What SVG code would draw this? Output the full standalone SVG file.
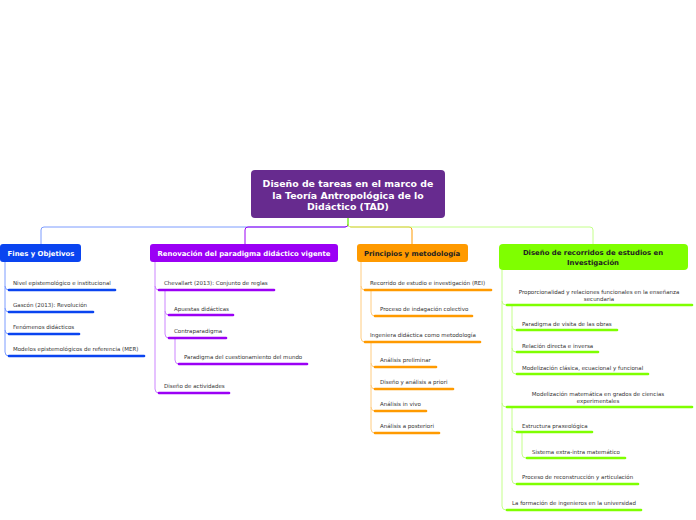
<svg xmlns="http://www.w3.org/2000/svg" width="696" height="520" viewBox="0 0 696 520">
<style>
.t{font-family:"DejaVu Sans",Verdana,sans-serif;font-size:5.5px;fill:#333}
.h{font-family:"DejaVu Sans",Verdana,sans-serif;font-size:6.9px;font-weight:bold}
.r{font-family:"DejaVu Sans",Verdana,sans-serif;font-size:9.4px;font-weight:bold;fill:#fff}
.ln{fill:none;stroke-width:1}
.bar{stroke-width:2.6;stroke-linecap:round}
.b{stroke:#0a44f0}.bl{stroke:#7d9cff}
.p{stroke:#9b00f5}.pl{stroke:#cc85ff}
.o{stroke:#ff9a00}.ol{stroke:#ffcc80}
.g{stroke:#7fff00}.gl{stroke:#c4ff8a}
</style>
<rect width="696" height="520" fill="#fff"/>
<g id="connectors">
<path class="ln bl" d="M348 218 V224 Q348 227 345 227 H44 Q41 227 41 230 V244"/>
<path class="ln p" d="M348 224 Q348 227 345 227 H248 Q245 227 245 230 V244"/>
<path class="ln o" d="M348 224 Q348 227 351 227 H409 Q412 227 412 230 V244"/>
<path class="ln gl" d="M348 218 V224 Q348 227 351 227 H590 Q593 227 593 230 V244"/>
<path class="ln g" d="M348 218 V226"/>
<path class="ln bl" d="M5 262 V286 Q5 290 9 290 M5 286 V308 Q5 312 9 312 M5 308 V330 Q5 334 9 334 M5 330 V352 Q5 356 9 356"/>
<path class="ln pl" d="M155 262 V286 Q155 290 159 290 M155 286 V389 Q155 393 159 393"/>
<path class="ln pl" d="M165 290 V311 Q165 315 169 315 M165 311 V334 Q165 338 169 338"/>
<path class="ln pl" d="M175 338 V360 Q175 364 179 364"/>
<path class="ln ol" d="M361 262 V286 Q361 290 365 290 M361 286 V338 Q361 342 365 342"/>
<path class="ln ol" d="M371 290 V312 Q371 316 375 316"/>
<path class="ln ol" d="M371 342 V363 Q371 367 375 367 M371 363 V385 Q371 389 375 389 M371 385 V407 Q371 411 375 411 M371 407 V429 Q371 433 375 433"/>
<path class="ln gl" d="M502 270 V301 Q502 305 506 305 M502 301 V403 Q502 407 506 407 M502 403 V506 Q502 510 506 510"/>
<path class="ln gl" d="M512 305 V326 Q512 330 516 330 M512 326 V348 Q512 352 516 352 M512 348 V370 Q512 374 516 374"/>
<path class="ln gl" d="M512 407 V428 Q512 432 516 432 M512 428 V480 Q512 484 516 484"/>
<path class="ln gl" d="M522 432 V454 Q522 458 526 458"/>
</g>
<g id="root">
<rect x="251" y="170" width="194" height="48" rx="4" fill="#672b8f"/>
<text class="r" text-anchor="middle"><tspan x="348" y="187">Diseño de tareas en el marco de</tspan><tspan x="348" y="198.5">la Teoría Antropológica de lo</tspan><tspan x="348" y="210">Didáctico (TAD)</tspan></text>
</g>
<g id="fines">
<rect x="0" y="244" width="81" height="18" rx="3" fill="#0a44f0"/>
<text class="h" x="41" y="256" text-anchor="middle" fill="#fff">Fines y Objetivos</text>
</g>
<g id="fines-1"><text class="t" x="13" y="285">Nivel epistemológico e institucional</text><line class="bar b" x1="9" y1="290" x2="115" y2="290"/></g>
<g id="fines-2"><text class="t" x="13" y="307">Gascón (2013): Revolución</text><line class="bar b" x1="9" y1="312" x2="93" y2="312"/></g>
<g id="fines-3"><text class="t" x="13" y="329">Fenómenos didácticos</text><line class="bar b" x1="9" y1="334" x2="79" y2="334"/></g>
<g id="fines-4"><text class="t" x="13" y="351">Modelos epistemológicos de referencia (MER)</text><line class="bar b" x1="9" y1="356" x2="144" y2="356"/></g>
<g id="renovacion">
<rect x="150" y="244" width="188" height="18" rx="3" fill="#9b00f5"/>
<text class="h" x="244" y="256" text-anchor="middle" fill="#fff">Renovación del paradigma didáctico vigente</text>
</g>
<g id="ren-1"><text class="t" x="164" y="285">Chevallart (2013): Conjunto de reglas</text><line class="bar p" x1="159" y1="290" x2="274" y2="290"/></g>
<g id="ren-1-1"><text class="t" x="174" y="311">Apuestas didácticas</text><line class="bar p" x1="169" y1="315" x2="233" y2="315"/></g>
<g id="ren-1-2"><text class="t" x="174" y="333">Contraparadigma</text><line class="bar p" x1="169" y1="338" x2="226" y2="338"/></g>
<g id="ren-1-2-1"><text class="t" x="184" y="359">Paradigma del cuestionamiento del mundo</text><line class="bar p" x1="179" y1="364" x2="307" y2="364"/></g>
<g id="ren-2"><text class="t" x="164" y="388">Diseño de actividades</text><line class="bar p" x1="159" y1="393" x2="229" y2="393"/></g>
<g id="principios">
<rect x="357" y="244" width="111" height="18" rx="3" fill="#ff9a00"/>
<text class="h" x="412" y="256" text-anchor="middle" fill="#222">Principios y metodología</text>
</g>
<g id="pri-1"><text class="t" x="370" y="285">Recorrido de estudio e investigación (REI)</text><line class="bar o" x1="365" y1="290" x2="491" y2="290"/></g>
<g id="pri-1-1"><text class="t" x="380" y="311">Proceso de indagación colectivo</text><line class="bar o" x1="375" y1="316" x2="472" y2="316"/></g>
<g id="pri-2"><text class="t" x="370" y="337">Ingeniera didáctica como metodología</text><line class="bar o" x1="365" y1="342" x2="480" y2="342"/></g>
<g id="pri-2-1"><text class="t" x="380" y="362">Análisis preliminar</text><line class="bar o" x1="375" y1="367" x2="436" y2="367"/></g>
<g id="pri-2-2"><text class="t" x="380" y="384">Diseño y análisis a priori</text><line class="bar o" x1="375" y1="389" x2="453" y2="389"/></g>
<g id="pri-2-3"><text class="t" x="380" y="406">Análisis in vivo</text><line class="bar o" x1="375" y1="411" x2="426" y2="411"/></g>
<g id="pri-2-4"><text class="t" x="380" y="428">Análisis a posteriori</text><line class="bar o" x1="375" y1="433" x2="439" y2="433"/></g>
<g id="recorridos">
<rect x="499" y="244" width="189" height="26" rx="4" fill="#7fff00"/>
<text class="h" text-anchor="middle" fill="#222"><tspan x="593" y="255">Diseño de recorridos de estudios en</tspan><tspan x="593" y="264.5">Investigación</tspan></text>
</g>
<g id="rec-1"><text class="t" text-anchor="middle"><tspan x="599" y="294">Proporcionalidad y relaciones funcionales en la enseñanza</tspan><tspan x="599" y="300.5">secundaria</tspan></text><line class="bar g" x1="507" y1="305" x2="692" y2="305"/></g>
<g id="rec-1-1"><text class="t" x="522" y="326">Paradigma de visita de las obras</text><line class="bar g" x1="517" y1="330" x2="617" y2="330"/></g>
<g id="rec-1-2"><text class="t" x="522" y="348">Relación directa e inversa</text><line class="bar g" x1="517" y1="352" x2="598" y2="352"/></g>
<g id="rec-1-3"><text class="t" x="522" y="370">Modelización clásica, ecuacional y funcional</text><line class="bar g" x1="517" y1="374" x2="648" y2="374"/></g>
<g id="rec-2"><text class="t" text-anchor="middle"><tspan x="598" y="396">Modelización matemática en grados de ciencias</tspan><tspan x="598" y="402.5">experimentales</tspan></text><line class="bar g" x1="507" y1="407" x2="692" y2="407"/></g>
<g id="rec-2-1"><text class="t" x="522" y="428">Estructura praxeológica</text><line class="bar g" x1="517" y1="432" x2="592" y2="432"/></g>
<g id="rec-2-1-1"><text class="t" x="532" y="454">Sistema extra-intra matemático</text><line class="bar g" x1="527" y1="458" x2="625" y2="458"/></g>
<g id="rec-2-2"><text class="t" x="522" y="479">Proceso de reconstrucción y articulación</text><line class="bar g" x1="517" y1="484" x2="638" y2="484"/></g>
<g id="rec-3"><text class="t" x="512" y="505">La formación de ingenieros en la universidad</text><line class="bar g" x1="507" y1="510" x2="641" y2="510"/></g>
</svg>
